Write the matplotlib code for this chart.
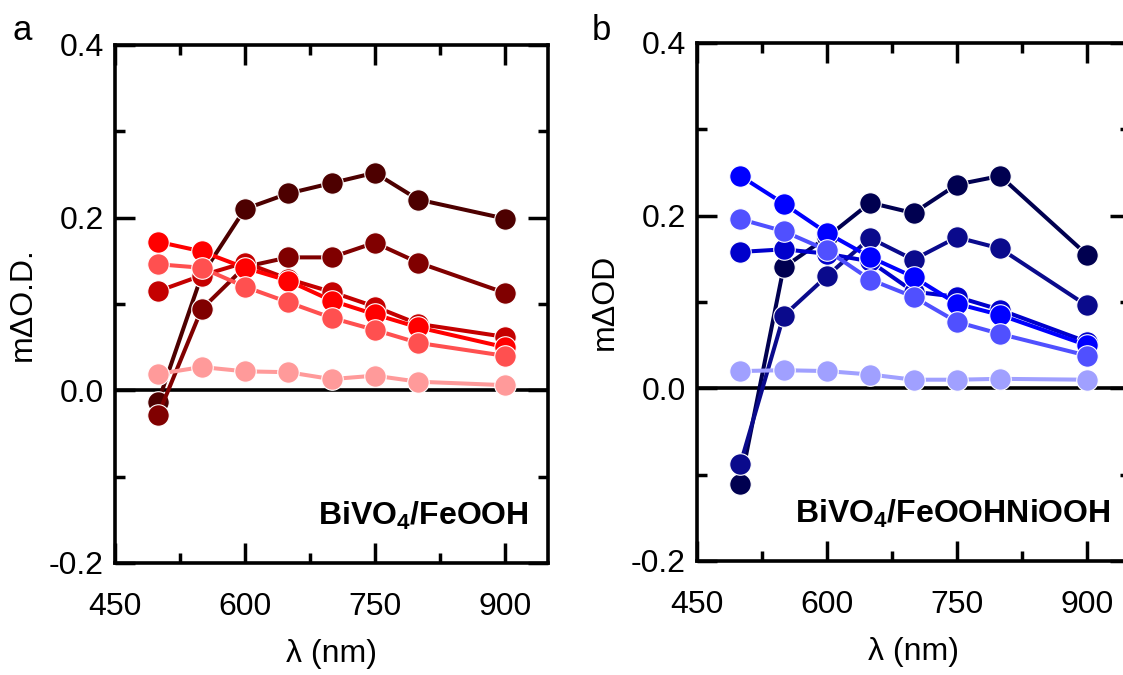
import matplotlib
matplotlib.use("Agg")
import matplotlib.pyplot as plt
from matplotlib.ticker import MultipleLocator

plt.rcParams['font.family'] = ['Liberation Sans', 'DejaVu Sans']
plt.rcParams['mathtext.fontset'] = 'custom'
plt.rcParams['mathtext.rm'] = 'Liberation Sans'
plt.rcParams['mathtext.bf'] = 'Liberation Sans:bold'

wavelengths = [500, 550, 600, 650, 700, 750, 800, 900]

# Panel a: BiVO4/FeOOH (darkest -> lightest)
a_darkest = [-0.013, 0.133, 0.210, 0.228, 0.240, 0.252, 0.221, 0.199]
a_dark    = [-0.028, 0.094, 0.143, 0.154, 0.154, 0.171, 0.148, 0.113]
a_darkred = [0.115, 0.133, 0.148, 0.129, 0.114, 0.097, 0.077, 0.062]
a_red     = [0.172, 0.161, 0.142, 0.127, 0.104, 0.088, 0.073, 0.050]
a_light   = [0.146, 0.142, 0.120, 0.102, 0.084, 0.070, 0.055, 0.040]
a_pink    = [0.019, 0.027, 0.022, 0.021, 0.013, 0.017, 0.010, 0.006]
a_series = [a_darkest, a_dark, a_darkred, a_red, a_light, a_pink]
a_colors = ['#4d0000', '#800000', '#c40000', '#ff0000', '#ff5050', '#ff9a9a']

# Panel b: BiVO4/FeOOHNiOOH
b_darkest = [-0.111, 0.140, 0.175, 0.215, 0.203, 0.236, 0.246, 0.155]
b_dark    = [-0.088, 0.084, 0.130, 0.174, 0.149, 0.175, 0.162, 0.096]
b_medium  = [0.158, 0.161, 0.156, 0.147, 0.112, 0.106, 0.091, 0.054]
b_blue    = [0.246, 0.214, 0.180, 0.152, 0.129, 0.098, 0.085, 0.050]
b_light   = [0.196, 0.182, 0.160, 0.126, 0.106, 0.077, 0.063, 0.038]
b_pale    = [0.020, 0.021, 0.020, 0.016, 0.010, 0.010, 0.011, 0.010]
b_series = [b_darkest, b_dark, b_medium, b_blue, b_light, b_pale]
b_colors = ['#000050', '#0a0a8c', '#0000cc', '#0000ff', '#5050ff', '#a0a0ff']

xticks = [450, 600, 750, 900]
yticks = [-0.2, 0.0, 0.2, 0.4]

fig = plt.figure(figsize=(11.23, 6.75), dpi=100)
W, H = 1123, 675
ax_a = fig.add_axes([115 / W, 112 / H, 433 / W, 518 / H])
ax_b = fig.add_axes([697 / W, 114 / H, 433 / W, 518 / H])

FS = 23

def style(ax, series, colors, ylabel, label, letter, letter_x):
    ax.axhline(0, color='black', lw=2.6, zorder=1)
    for s, c in zip(series, colors):
        ax.plot(wavelengths, s, '-o', color=c, lw=2.9, ms=15.5,
                mec='white', mew=0.8, zorder=2)
    ax.set_xlim(450, 950)
    ax.set_ylim(-0.2, 0.4)
    ax.set_xticks(xticks)
    ax.set_yticks(yticks)
    ax.set_yticklabels([f'{v:.1f}' for v in yticks])
    ax.xaxis.set_minor_locator(MultipleLocator(75))
    ax.yaxis.set_minor_locator(MultipleLocator(0.1))
    ax.tick_params(which='both', direction='in', top=True, right=True,
                   width=2.5, labelsize=FS)
    ax.tick_params(which='major', length=14.4)
    ax.tick_params(which='minor', length=7.2)
    ax.tick_params(axis='x', which='major', pad=21)
    ax.tick_params(axis='y', which='major', pad=8)
    for sp in ax.spines.values():
        sp.set_linewidth(2.6)
    ax.set_xlabel('λ (nm)', fontsize=FS, labelpad=12)
    ax.set_ylabel(ylabel, fontsize=FS, labelpad=8)
    ax.text(0.955, 0.073, label, transform=ax.transAxes, ha='right',
            va='baseline', fontsize=FS, fontweight='bold')
    fig.text(letter_x, 1 - 40 / H, letter, fontsize=FS + 2, ha='left',
             va='baseline')

style(ax_a, a_series, a_colors, 'mΔO.D.',
      r'$\mathbf{BiVO_4/FeOOH}$', 'a', 12 / W)
style(ax_b, b_series, b_colors, 'mΔOD',
      r'$\mathbf{BiVO_4/FeOOHNiOOH}$', 'b', 592 / W)

fig.savefig('out.png', dpi=100)
